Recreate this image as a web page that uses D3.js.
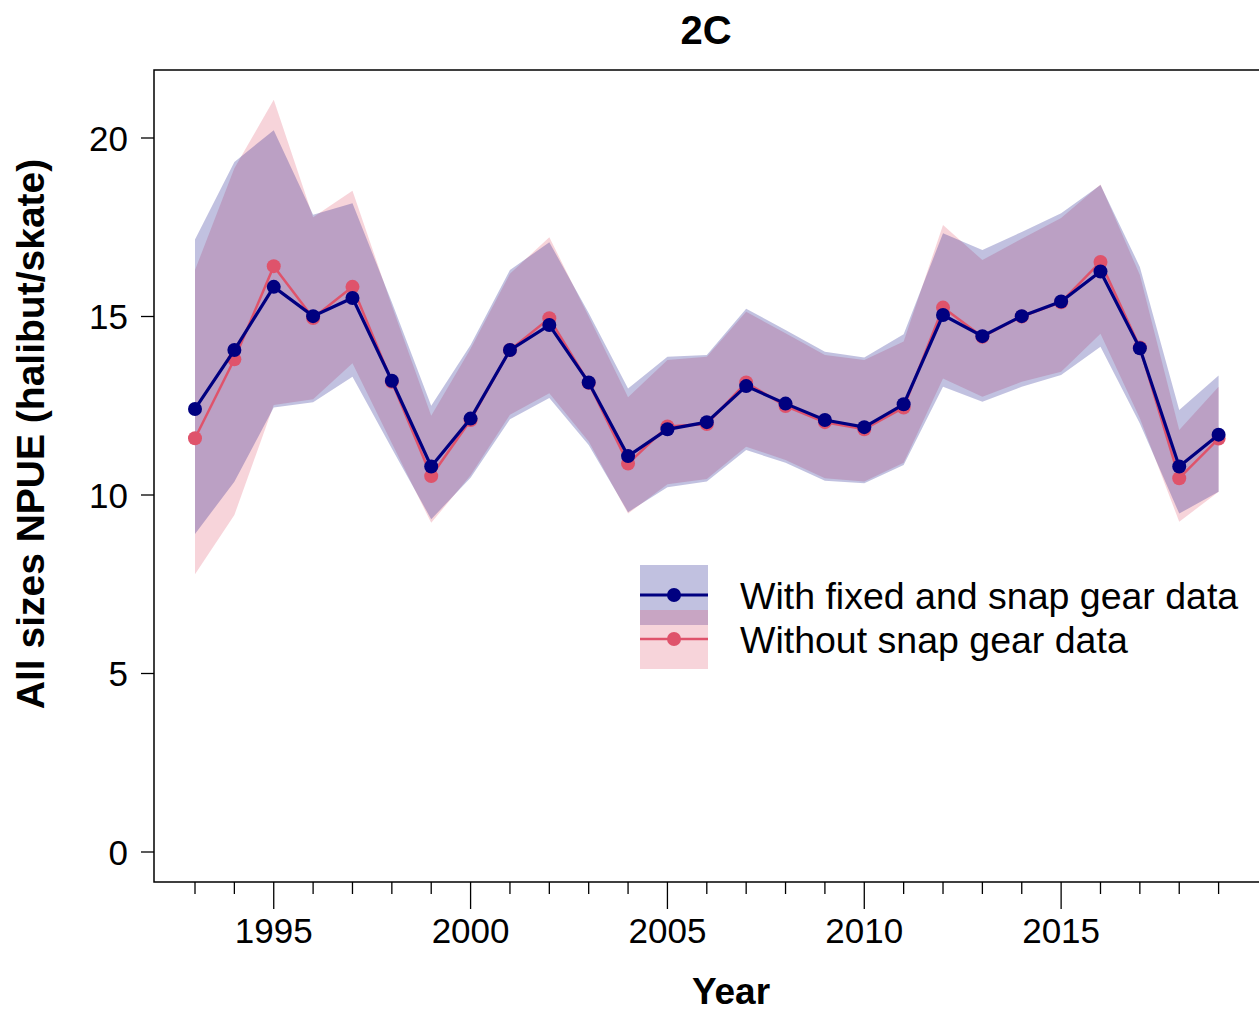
<!DOCTYPE html>
<html>
<head>
<meta charset="utf-8">
<script src="https://cdn.jsdelivr.net/npm/d3@7"></script>
<style>
  html, body { margin: 0; padding: 0; background: #fff; }
  svg { display: block; font-family: Arial, "Liberation Sans", sans-serif; }
</style>
</head>
<body>
<svg id="chart" width="1259" height="1013"></svg>
<script>
// ---- data ----
const years = d3.range(1993, 2020);
const withSnap = [12.41,14.06,15.83,15.01,15.52,13.20,10.80,12.14,14.06,14.76,13.15,11.09,11.84,12.04,13.05,12.56,12.10,11.90,12.54,15.04,14.45,15.01,15.42,16.26,14.11,10.80,11.69];
const withUpper = [17.16,19.33,20.22,17.85,18.17,15.40,12.50,14.20,16.30,17.08,15.10,12.98,13.87,13.92,15.22,14.62,14.01,13.85,14.50,17.33,16.86,17.37,17.89,18.68,16.39,12.38,13.35];
const withLower = [8.91,10.37,12.45,12.60,13.31,11.30,9.32,10.48,12.12,12.72,11.40,9.52,10.22,10.38,11.26,10.90,10.40,10.33,10.84,13.03,12.61,13.03,13.36,14.15,12.00,9.48,10.09];
const withoutSnap = [11.59,13.80,16.41,14.96,15.83,13.17,10.53,12.10,14.06,14.95,13.14,10.88,11.92,11.99,13.15,12.49,12.04,11.84,12.45,15.25,14.43,15.00,15.40,16.53,14.13,10.47,11.58];
const withoutUpper = [16.30,19.15,21.07,17.78,18.52,15.30,12.22,14.10,16.20,17.22,15.00,12.74,13.78,13.87,15.13,14.53,13.92,13.78,14.30,17.56,16.58,17.18,17.76,18.70,16.16,11.82,13.03];
const withoutLower = [7.78,9.44,12.52,12.68,13.69,11.45,9.22,10.55,12.25,12.85,11.50,9.48,10.30,10.45,11.35,10.98,10.47,10.38,10.90,13.26,12.75,13.17,13.45,14.52,12.15,9.25,10.09];
const yTicks = [0,5,10,15,20];
const xMajorTicks = [1995,2000,2005,2010,2015];
const seriesNames = ["With fixed and snap gear data","Without snap gear data"];
const title = "2C";
const xTitle = "Year";
const yTitle = "All sizes NPUE (halibut/skate)";

// ---- layout ----
const svg = d3.select("#chart");
const L = 154, T = 70, R = 1260, B = 882;
const x = d3.scaleLinear().domain([1993, 2019]).range([195, 1218.6]);
const y = d3.scaleLinear().domain([0, 20]).range([852, 138]);

const navy = "#000080", red = "#DF536B";

// bands: red first, blue on top
const band = (lo, hi) => d3.area()
  .x((d,i) => x(years[i]))
  .y0((d,i) => y(lo[i]))
  .y1((d,i) => y(hi[i]));

svg.append("path").attr("d", band(withoutLower, withoutUpper)(years))
  .attr("fill", red).attr("fill-opacity", 0.25);
svg.append("path").attr("d", band(withLower, withUpper)(years))
  .attr("fill", navy).attr("fill-opacity", 0.245);

// lines & points
function drawSeries(vals, color, w) {
  const line = d3.line().x((d,i) => x(years[i])).y(d => y(d));
  svg.append("path").attr("d", line(vals)).attr("fill", "none")
    .attr("stroke", color).attr("stroke-width", w);
  svg.append("g").selectAll("circle").data(vals).join("circle")
    .attr("cx", (d,i) => x(years[i])).attr("cy", d => y(d))
    .attr("r", 7).attr("fill", color);
}
drawSeries(withoutSnap, red, 2.5);
drawSeries(withSnap, navy, 3.2);

// box
svg.append("path").attr("d", `M${L},${T}H${R}V${B}H${L}Z`)
  .attr("fill", "none").attr("stroke", "#000").attr("stroke-width", 1.5);

// x axis ticks
const gx = svg.append("g");
gx.selectAll("line.minor").data(years.filter(v => !xMajorTicks.includes(v))).join("line")
  .attr("x1", d => x(d)).attr("x2", d => x(d)).attr("y1", B).attr("y2", B + 12)
  .attr("stroke", "#000").attr("stroke-width", 1.3);
gx.selectAll("line.major").data(xMajorTicks).join("line")
  .attr("x1", d => x(d)).attr("x2", d => x(d)).attr("y1", B).attr("y2", B + 27)
  .attr("stroke", "#000").attr("stroke-width", 1.3);
gx.selectAll("text").data(xMajorTicks).join("text")
  .attr("x", d => x(d)).attr("y", 943).attr("text-anchor", "middle")
  .attr("font-size", 35).attr("fill", "#000").text(d => d);

// y axis
const gy = svg.append("g");
gy.selectAll("line").data(yTicks).join("line")
  .attr("x1", L - 13).attr("x2", L).attr("y1", d => y(d)).attr("y2", d => y(d))
  .attr("stroke", "#000").attr("stroke-width", 1.3);
gy.selectAll("text").data(yTicks).join("text")
  .attr("x", 128).attr("y", d => y(d)).attr("dy", "0.36em").attr("text-anchor", "end")
  .attr("font-size", 35).attr("fill", "#000").text(d => d);

// titles
svg.append("text").attr("x", 706).attr("y", 44).attr("text-anchor", "middle")
  .attr("font-size", 40).attr("font-weight", "bold").text(title);
svg.append("text").attr("x", 731).attr("y", 1004).attr("text-anchor", "middle")
  .attr("font-size", 37).attr("font-weight", "bold").text(xTitle);
svg.append("text").attr("transform", "translate(44,434) rotate(-90)")
  .attr("text-anchor", "middle").attr("font-size", 39).attr("font-weight", "bold").text(yTitle);

// legend
const lg = svg.append("g");
lg.append("rect").attr("x", 640).attr("y", 565).attr("width", 68).attr("height", 60)
  .attr("fill", navy).attr("fill-opacity", 0.245);
lg.append("rect").attr("x", 640).attr("y", 610).attr("width", 68).attr("height", 59)
  .attr("fill", red).attr("fill-opacity", 0.25);
const legendItems = [
  {name: seriesNames[0], color: navy, w: 3.2, yy: 595},
  {name: seriesNames[1], color: red, w: 2.5, yy: 639}
];
legendItems.forEach(it => {
  lg.append("line").attr("x1", 640).attr("x2", 708).attr("y1", it.yy).attr("y2", it.yy)
    .attr("stroke", it.color).attr("stroke-width", it.w);
  lg.append("circle").attr("cx", 674).attr("cy", it.yy).attr("r", 7).attr("fill", it.color);
  lg.append("text").attr("x", 740).attr("y", it.yy).attr("dy", "0.36em")
    .attr("font-size", 37.5).attr("fill", "#000").text(it.name);
});
</script>
</body>
</html>
